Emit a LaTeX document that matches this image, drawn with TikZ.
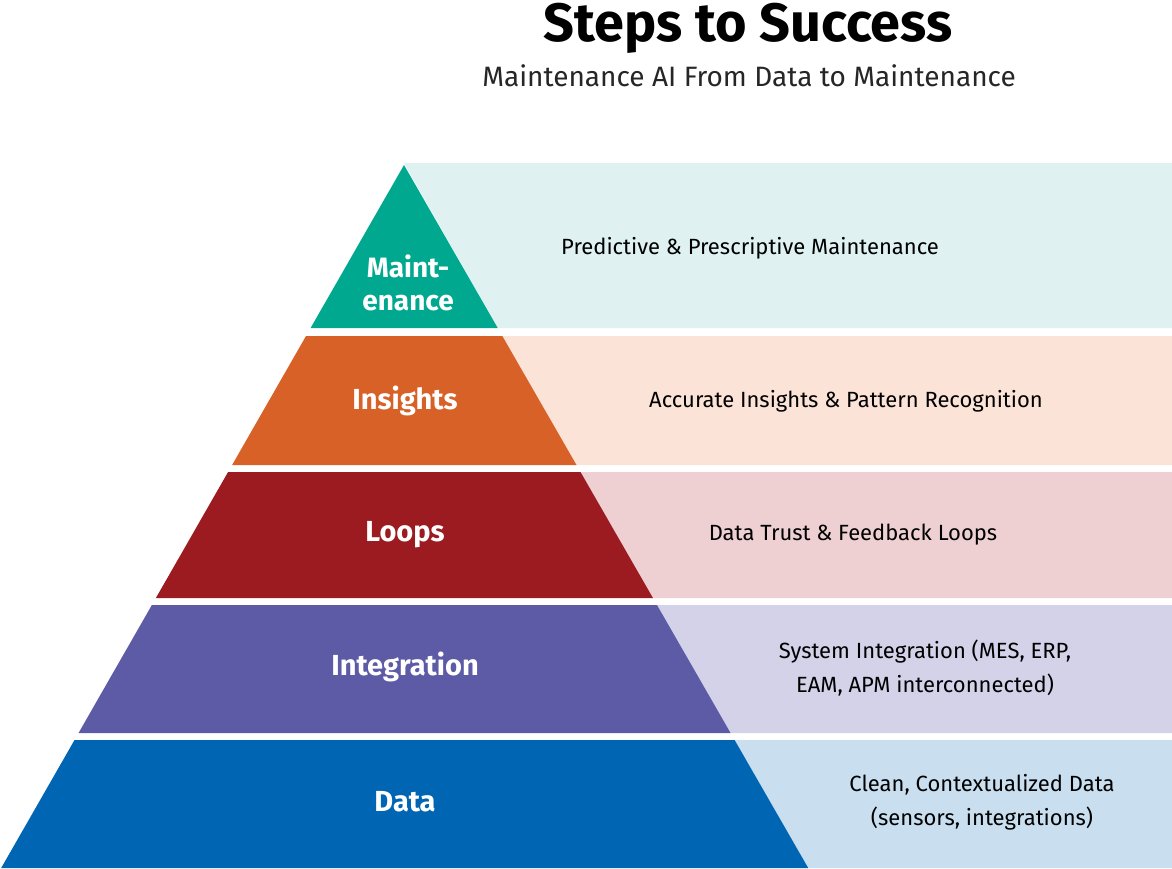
\documentclass[tikz,border=0pt]{standalone}
\usepackage{fontspec}
\setmainfont{Fira Sans}
\begin{document}
\begin{tikzpicture}[x=1pt,y=-1pt,
  lab/.style={text=white,font=\fontsize{29}{31}\selectfont\bfseries,align=center,inner sep=0},
  desc/.style={text=black,font=\fontsize{22}{34}\selectfont,align=center,inner sep=0}]
\definecolor{cA}{HTML}{00A88F}\definecolor{cB}{HTML}{D86127}\definecolor{cC}{HTML}{9B1B20}
\definecolor{cD}{HTML}{5D5BA6}\definecolor{cE}{HTML}{0065B2}
\definecolor{pA}{HTML}{DFF1F1}\definecolor{pB}{HTML}{FBE3D8}\definecolor{pC}{HTML}{EED0D3}
\definecolor{pD}{HTML}{D4D2E9}\definecolor{pE}{HTML}{C9DFF0}
\useasboundingbox[fill=white] (0,0) rectangle (1172,868);
\def\xl#1{404-0.573*(#1-165)}
\def\xr#1{404+0.575*(#1-165)}
% panels
\fill[pA] ({\xr{165}},163) -- (1172,163) -- (1172,328) -- ({\xr{328}},328) -- cycle;
\fill[pB] ({\xr{336}},336) -- (1172,336) -- (1172,465) -- ({\xr{465}},465) -- cycle;
\fill[pC] ({\xr{472}},472) -- (1172,472) -- (1172,598) -- ({\xr{598}},598) -- cycle;
\fill[pD] ({\xr{605}},605) -- (1172,605) -- (1172,733) -- ({\xr{733}},733) -- cycle;
\fill[pE] ({\xr{740}},740) -- (1172,740) -- (1172,868) -- ({\xr{868}},868) -- cycle;
% pyramid
\fill[cA] (404,165) -- ({\xr{328}},328) -- ({\xl{328}},328) -- cycle;
\fill[cB] ({\xl{336}},336) -- ({\xr{336}},336) -- ({\xr{465}},465) -- ({\xl{465}},465) -- cycle;
\fill[cC] ({\xl{472}},472) -- ({\xr{472}},472) -- ({\xr{598}},598) -- ({\xl{598}},598) -- cycle;
\fill[cD] ({\xl{605}},605) -- ({\xr{605}},605) -- ({\xr{733}},733) -- ({\xl{733}},733) -- cycle;
\fill[cE] ({\xl{740}},740) -- ({\xr{740}},740) -- ({\xr{868}},868) -- ({\xl{868}},868) -- cycle;
% titles
\node[font=\fontsize{54}{56}\selectfont\bfseries,inner sep=0] (title) at (748,28) {Steps to Success};
\node[font=\fontsize{28}{30}\selectfont,text=black!85,inner sep=0] (sub) at (749,76) {Maintenance AI From Data to Maintenance};
% labels
\node[lab,font=\fontsize{28}{33}\selectfont\bfseries] (l1) at (408,283) {Maint-\\enance};
\node[lab] (l2) at (405,401) {Insights};
\node[lab] (l3) at (405,535) {Loops};
\node[lab] (l4) at (405,667) {Integration};
\node[lab] (l5) at (405,802) {Data};
\node[desc] (d1) at (750,248) {Predictive \& Prescriptive Maintenance};
\node[desc] (d2) at (846,401) {Accurate Insights \& Pattern Recognition};
\node[desc] (d3) at (853,535) {Data Trust \& Feedback Loops};
\node[desc] (d4) at (925,668) {System Integration (MES, ERP,\\EAM, APM interconnected)};
\node[desc] (d5) at (982,802) {Clean, Contextualized Data\\(sensors, integrations)};
\end{tikzpicture}
\end{document}
